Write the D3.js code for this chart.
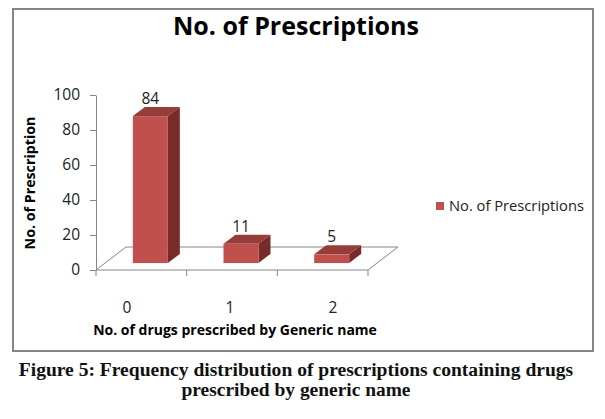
<!DOCTYPE html>
<html>
<head>
<meta charset="utf-8">
<script src="https://cdn.jsdelivr.net/npm/d3@7"></script>
<style>
  body { margin: 0; background: #fff; }
  svg { display: block; }
</style>
</head>
<body>
<div id="chart"></div>
<script>
// chart data
const categories = ["0", "1", "2"];
const values = [84, 11, 5];
const yTicks = [0, 20, 40, 60, 80, 100];
const seriesName = "No. of Prescriptions";
const chartTitle = "No. of Prescriptions";
const yTitle = "No. of Prescription";
const xTitle = "No. of drugs prescribed by Generic name";
const captionLines = [
    "Figure 5: Frequency distribution of prescriptions containing drugs",
    "prescribed by generic name"
];

const width = 605, height = 419;
const sans = "'Open Sans', 'Noto Sans', sans-serif";
const serif = "'Liberation Serif', 'DejaVu Serif', serif";

// floor depth offset (back of the 3d floor relative to the front)
const depth = { dx: 30, dy: -23 };
// bars sit between these fractions of the floor depth
const barD0 = 0.3, barD1 = 0.7;
const barWidth = 35;

const colors = {
    front: "#c0504d",
    top: "#963d3a",
    side: "#772c2a",
    axis: "#868686",
    frame: "#868686"
};

const svg = d3.select("#chart").append("svg")
    .attr("width", width)
    .attr("height", height);

// scale a text element's font size so it spans the given width
function fitText(sel, target) {
    const node = sel.node();
    const base = parseFloat(sel.style("font-size"));
    const len = node.getComputedTextLength();
    sel.style("font-size", (base * target / len) + "px");
    return sel;
}

// chart frame
svg.append("rect")
    .attr("x", 13)
    .attr("y", 9)
    .attr("width", 580)
    .attr("height", 342)
    .attr("fill", "none")
    .attr("stroke", colors.frame)
    .attr("stroke-width", 2);

const x = d3.scaleBand()
    .domain(categories)
    .range([96, 368]);

const y = d3.scaleLinear()
    .domain([0, 100])
    .range([270, 95]);

const labelX = d3.scalePoint()
    .domain(categories)
    .range([127, 333]);

// floor
const x0 = x.range()[0], x1 = x.range()[1], yf = y(0);
svg.append("path")
    .attr("d", `M${x0},${yf} L${x1},${yf} L${x1 + depth.dx},${yf + depth.dy} L${x0 + depth.dx},${yf + depth.dy} Z`)
    .attr("fill", "none")
    .attr("stroke", colors.axis)
    .attr("stroke-width", 1);

// category tick marks on the front edge
const bounds = categories.map(c => x(c)).concat([x1]);
svg.append("g")
    .selectAll("line")
    .data(bounds)
    .enter()
    .append("line")
    .attr("x1", d => d).attr("x2", d => d)
    .attr("y1", yf).attr("y2", yf + 6)
    .attr("stroke", colors.axis);

// value axis
const yAxis = svg.append("g")
    .attr("transform", `translate(${x0},0)`)
    .call(d3.axisLeft(y).tickValues(yTicks).tickSize(6).tickPadding(10).tickSizeOuter(0));
yAxis.select(".domain").attr("stroke", colors.axis);
yAxis.selectAll(".tick line").attr("stroke", colors.axis);
yAxis.selectAll(".tick text")
    .style("font-family", sans)
    .style("font-size", "15.5px")
    .attr("fill", "#222");

// category labels
svg.append("g")
    .selectAll("text")
    .data(categories)
    .enter()
    .append("text")
    .attr("x", d => labelX(d))
    .attr("y", 313)
    .attr("text-anchor", "middle")
    .style("font-family", sans)
    .style("font-size", "15.5px")
    .attr("fill", "#222")
    .text(d => d);

// 3d bars
const bars = categories.map((c, i) => {
    const cx = x(c) + x.bandwidth() / 2 + barD0 * depth.dx;
    const left = cx - barWidth / 2;
    const right = cx + barWidth / 2;
    const bottom = y(0) + barD0 * depth.dy;
    const top = y(values[i]) + barD0 * depth.dy;
    const ddx = (barD1 - barD0) * depth.dx;
    const ddy = (barD1 - barD0) * depth.dy;
    return { c, v: values[i], cx, left, right, bottom, top, ddx, ddy };
});

const barG = svg.append("g").selectAll("g")
    .data(bars)
    .enter()
    .append("g");

barG.append("path")
    .attr("d", d => `M${d.right},${d.top} L${d.right + d.ddx},${d.top + d.ddy} L${d.right + d.ddx},${d.bottom + d.ddy} L${d.right},${d.bottom} Z`)
    .attr("fill", colors.side);

barG.append("path")
    .attr("d", d => `M${d.left},${d.top} L${d.left + d.ddx},${d.top + d.ddy} L${d.right + d.ddx},${d.top + d.ddy} L${d.right},${d.top} Z`)
    .attr("fill", colors.top);

barG.append("rect")
    .attr("x", d => d.left)
    .attr("y", d => d.top)
    .attr("width", barWidth)
    .attr("height", d => d.bottom - d.top)
    .attr("fill", colors.front);

// data labels
barG.append("text")
    .attr("x", d => d.cx)
    .attr("y", d => d.top + d.ddy - 3)
    .attr("text-anchor", "middle")
    .style("font-family", sans)
    .style("font-size", "15.5px")
    .attr("fill", "#222")
    .text(d => d.v);

// chart title
const title = svg.append("text")
    .attr("x", 296)
    .attr("y", 35)
    .attr("text-anchor", "middle")
    .style("font-family", sans)
    .style("font-weight", "bold")
    .style("font-size", "24px")
    .text(chartTitle);
fitText(title, 246);

// axis titles
const yt = svg.append("text")
    .attr("transform", "translate(35,183) rotate(-90)")
    .attr("text-anchor", "middle")
    .style("font-family", sans)
    .style("font-weight", "bold")
    .style("font-size", "14px")
    .text(yTitle);
fitText(yt, 133);

const xt = svg.append("text")
    .attr("x", 235)
    .attr("y", 335)
    .attr("text-anchor", "middle")
    .style("font-family", sans)
    .style("font-weight", "bold")
    .style("font-size", "14px")
    .text(xTitle);
fitText(xt, 284);

// legend
const legend = svg.append("g")
    .attr("transform", "translate(436,202)");
legend.append("rect")
    .attr("width", 8)
    .attr("height", 8)
    .attr("fill", colors.front);
const lt = legend.append("text")
    .attr("x", 13)
    .attr("y", 9)
    .style("font-family", sans)
    .style("font-size", "14px")
    .attr("fill", "#222")
    .text(seriesName);
fitText(lt, 135);

// figure caption
const capY = [376, 396];
const capW = [555, 229];
svg.append("g")
    .selectAll("text")
    .data(captionLines)
    .enter()
    .append("text")
    .attr("x", 296)
    .attr("y", (d, i) => capY[i])
    .attr("text-anchor", "middle")
    .style("font-family", serif)
    .style("font-weight", "bold")
    .style("font-size", "17px")
    .attr("fill", "#111")
    .text(d => d)
    .each(function(d, i) { fitText(d3.select(this), capW[i]); });
</script>
</body>
</html>
